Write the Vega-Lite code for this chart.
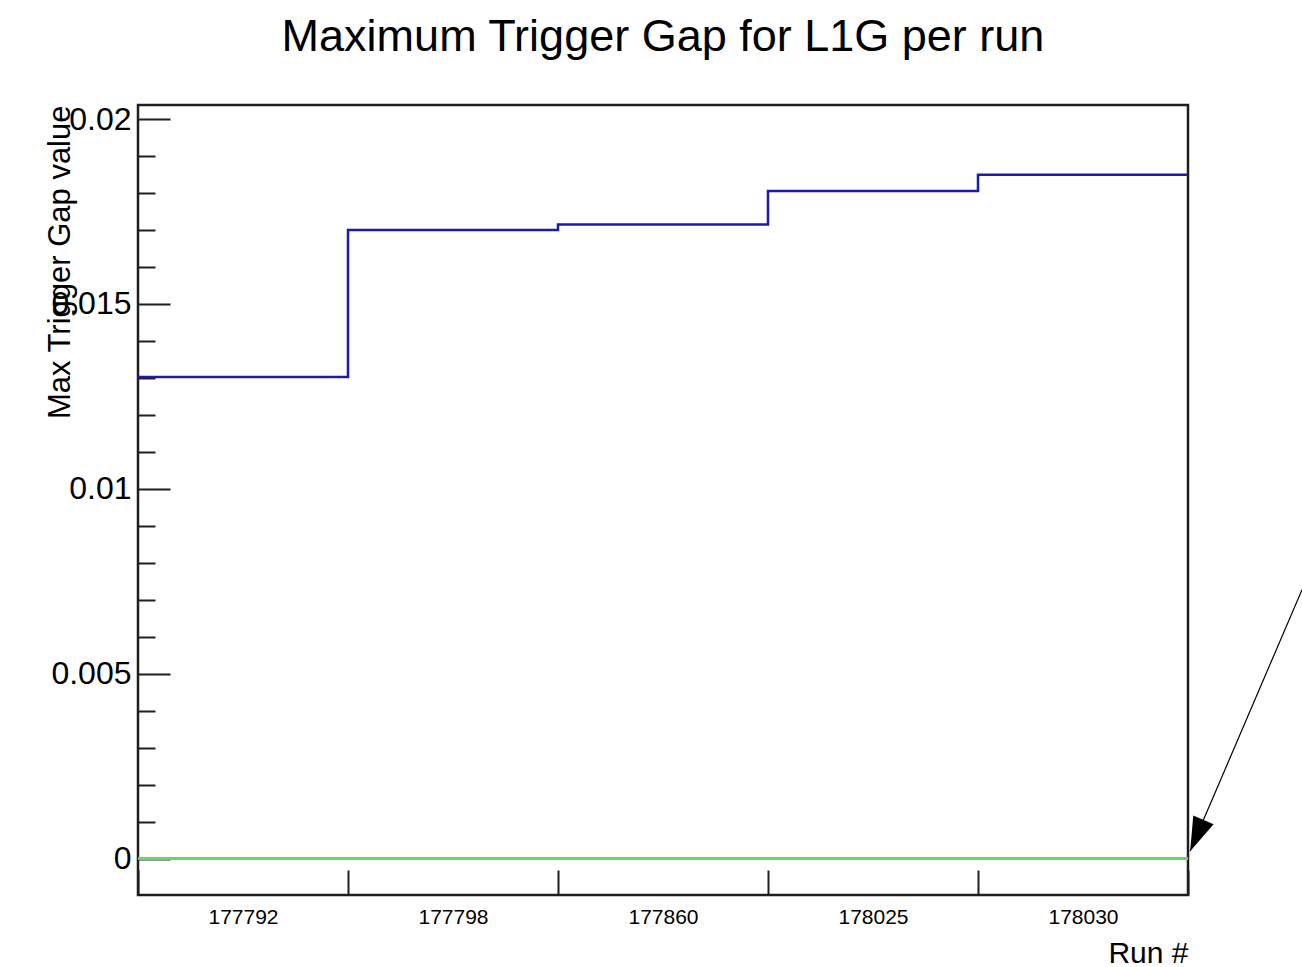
{
  "$schema": "https://vega.github.io/schema/vega-lite/v6.json",
  "width": 1050,
  "height": 790,
  "autosize": {"type": "none"},
  "padding": {"left": 138, "top": 105, "right": 114, "bottom": 72},
  "background": "white",
  "config": {
    "font": "Liberation Sans",
    "view": {"stroke": "#1e1e1e", "strokeWidth": 2.5},
    "axis": {
      "domain": false,
      "grid": false,
      "tickColor": "#1e1e1e",
      "tickWidth": 2,
      "labelColor": "black",
      "titleColor": "black",
      "labelFont": "Liberation Sans",
      "titleFont": "Liberation Sans",
      "titleFontWeight": "normal"
    }
  },
  "title": {
    "text": "Maximum Trigger Gap for L1G per run",
    "font": "Liberation Sans",
    "fontSize": 45,
    "fontWeight": "normal",
    "color": "black",
    "anchor": "middle",
    "frame": "group",
    "baseline": "alphabetic",
    "offset": 7
  },
  "datasets": {
    "runs": [
      {"run": "177792", "lo": 0, "hi": 1, "gap": 0.01302},
      {"run": "177798", "lo": 1, "hi": 2, "gap": 0.0170},
      {"run": "177860", "lo": 2, "hi": 3, "gap": 0.01715},
      {"run": "178025", "lo": 3, "hi": 4, "gap": 0.01805},
      {"run": "178030", "lo": 4, "hi": 5, "gap": 0.01849}
    ],
    "baseline": [{"level": 0}],
    "pointer": [{"from_pos": 5.543, "from_gap": 0.00727, "to_pos": 5.01, "to_gap": 0.0002}]
  },
  "layer": [
    {
      "data": {"name": "runs"},
      "mark": {"type": "point", "opacity": 0},
      "encoding": {
        "x": {
          "field": "run",
          "type": "nominal",
          "sort": null,
          "scale": {"type": "band", "paddingInner": 0, "paddingOuter": 0},
          "axis": {
            "orient": "bottom",
            "tickBand": "extent",
            "tickSize": -25,
            "labelAngle": 0,
            "labelFontSize": 21,
            "labelPadding": 36.5,
            "title": "Run #",
            "titleFontSize": 30,
            "titleAnchor": "end",
            "titleAlign": "right",
            "titleBaseline": "alphabetic",
            "titleX": 1050,
            "titleY": 67
          }
        },
        "y": {
          "field": "gap",
          "type": "quantitative",
          "scale": {"domain": [-0.000987, 0.020379], "nice": false, "zero": false},
          "axis": {
            "orient": "left",
            "values": [0, 0.005, 0.01, 0.015, 0.02],
            "format": "~g",
            "tickSize": -32,
            "labelFontSize": 32,
            "labelPadding": 39,
            "title": "Max Trigger Gap value",
            "titleFontSize": 31,
            "titleAngle": -90,
            "titleAnchor": "end",
            "titleAlign": "right",
            "titleBaseline": "alphabetic",
            "titleX": -69,
            "titleY": 0
          }
        }
      }
    },
    {
      "data": {"name": "baseline"},
      "mark": {"type": "rule", "color": "#6ad36a", "strokeWidth": 2.8},
      "encoding": {
        "y": {
          "field": "level",
          "type": "quantitative",
          "scale": {"domain": [-0.000987, 0.020379], "nice": false, "zero": false},
          "axis": {
            "orient": "left",
            "values": [0.001, 0.002, 0.003, 0.004, 0.006, 0.007, 0.008, 0.009, 0.011, 0.012, 0.013, 0.014, 0.016, 0.017, 0.018, 0.019],
            "tickSize": -17,
            "labels": false,
            "title": null
          }
        }
      }
    },
    {
      "data": {"name": "runs"},
      "transform": [{"fold": ["lo", "hi"], "as": ["edge", "pos"]}],
      "mark": {"type": "line", "color": "#1b1baa", "strokeWidth": 2.5, "interpolate": "linear"},
      "encoding": {
        "x": {
          "field": "pos",
          "type": "quantitative",
          "scale": {"domain": [0, 5], "nice": false, "zero": false},
          "axis": null
        },
        "y": {"field": "gap", "type": "quantitative", "axis": null},
        "order": {"value": null}
      }
    },
    {
      "data": {"name": "pointer"},
      "mark": {"type": "rule", "color": "black", "strokeWidth": 1.2},
      "encoding": {
        "x": {
          "field": "from_pos",
          "type": "quantitative",
          "scale": {"domain": [0, 5], "nice": false, "zero": false},
          "axis": null
        },
        "y": {"field": "from_gap", "type": "quantitative", "axis": null},
        "x2": {"field": "to_pos"},
        "y2": {"field": "to_gap"}
      }
    },
    {
      "data": {"name": "pointer"},
      "mark": {
        "type": "point",
        "shape": "M0,-1L0.65,1L-0.65,1Z",
        "filled": true,
        "color": "black",
        "opacity": 1,
        "size": 1156,
        "angle": 203,
        "xOffset": 6.7,
        "yOffset": -15.6
      },
      "encoding": {
        "x": {
          "field": "to_pos",
          "type": "quantitative",
          "scale": {"domain": [0, 5], "nice": false, "zero": false},
          "axis": null
        },
        "y": {"field": "to_gap", "type": "quantitative", "axis": null}
      }
    }
  ],
  "resolve": {"scale": {"x": "independent"}, "axis": {"y": "independent"}}
}
